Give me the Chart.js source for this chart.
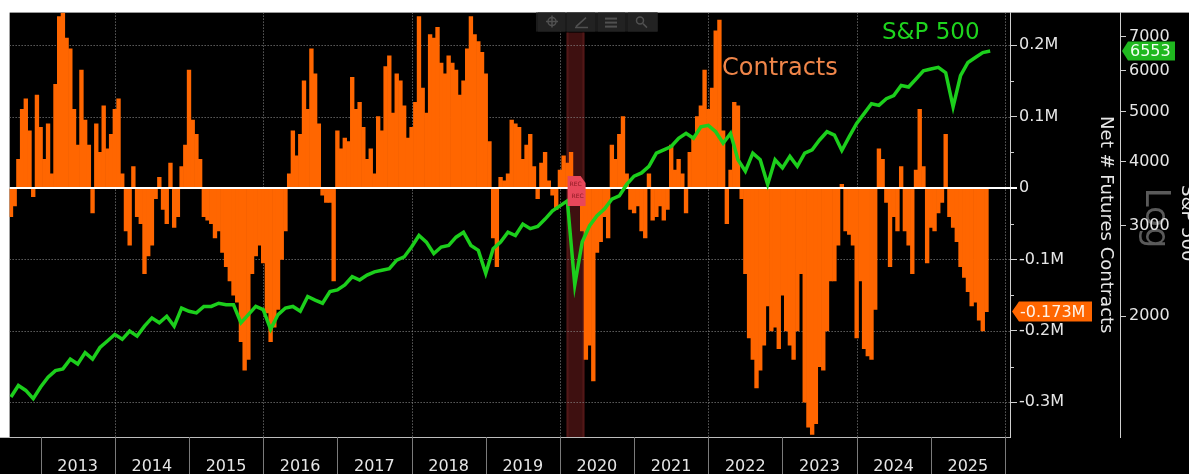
<!DOCTYPE html>
<html>
<head>
<meta charset="utf-8">
<script src="https://cdn.jsdelivr.net/npm/chart.js@4.4.1/dist/chart.umd.min.js"></script>
<style>
html, body { margin: 0; padding: 0; background: #000; overflow: hidden; }
canvas { display: block; }
</style>
</head>
<body>
<canvas id="chart" width="1189" height="474"></canvas>
<script>
// weekly-ish net positioning, thousands of contracts, one value every 0.05 yr
const contractsStart = 2012.6;
const contractsStep = 0.05;
const contracts = [
	-40, -25, 40, 110, 125, 80, -12, 130, 85, 40, 90, 20, 145, 240, 245, 210, 195, 110, 60, 165,
	95, 60, -35, 90, 50, 115, 55, 75, 110, 125, 20, -60, -80, 30, -40, -50, -120, -95, -80, -15,
	15, -30, -50, 35, -55, -40, 30, 60, 165, 95, 75, 40, -40, -45, -50, -70, -60, -90, -110, -130,
	-150, -160, -215, -255, -240, -120, -95, -80, -105, -175, -215, -195, -170, -100, -60, 20, 80, 45, 75, 150,
	110, 195, 160, 90, -10, -20, -20, -130, 80, 55, 70, 65, 155, 110, 120, 85, 40, 55, 20, 100,
	80, 170, 185, 105, 160, 150, 115, 70, 85, 120, 240, 140, 105, 215, 210, 225, 175, 160, 185, 175,
	165, 130, 150, 195, 240, 215, 205, 190, 160, 65, -70, -110, 15, 10, 20, 95, 90, 85, 40, 60,
	75, 30, -15, 35, 50, 10, -10, -30, 25, 45, 35, 50, 5, -10, -60, -240, -220, -270, -90, -75,
	-40, -70, 60, 40, 75, 100, 20, -30, -35, -25, -60, -70, 20, -45, -40, -25, -45, -30, 60, 25,
	40, 20, -35, 50, 70, 100, 115, 165, 110, 140, 220, 235, 80, -50, 25, 120, 115, -15, -120, -210,
	-240, -280, -255, -220, -165, -200, -195, -225, -150, -200, -220, -240, -200, -120, -300, -335, -345, -330, -250, -255,
	-200, -130, -130, -80, 5, -60, -65, -80, -210, -130, -225, -235, -240, -170, 55, 40, -20, -110, -40, -60,
	30, -60, -80, -120, 25, 110, 30, -105, -55, -60, -35, -20, 75, -40, -55, -75, -110, -125, -145, -165,
	-160, -185, -200, -173
];

// S&P 500 index level, one value every 0.1 yr
const spxStart = 2012.6;
const spxStep = 0.1;
const spx = [
	1393, 1467, 1435, 1383, 1457, 1522, 1568, 1580, 1651, 1615, 1700, 1651, 1739, 1790, 1844, 1804, 1872, 1830, 1913, 1985, 1942, 2000,
	1913, 2075, 2045, 2030, 2090, 2090, 2120, 2105, 2105, 1942, 2015, 2090, 2060, 1886, 2015, 2075, 2090, 2045, 2185, 2150, 2120, 2234,
	2250, 2300, 2387, 2352, 2405, 2440, 2458, 2475, 2571, 2608, 2726, 2871, 2787, 2647, 2726, 2746, 2849, 2913, 2746, 2686, 2423, 2706,
	2787, 2913, 2871, 3022, 2960, 2990, 3090, 3206, 3278, 3352, 2300, 2787, 3000, 3136, 3230, 3376, 3427, 3608, 3744, 3799, 3913, 4150, 4213,
	4276, 4435, 4535, 4435, 4670, 4700, 4568, 4338, 4535, 4030, 3828, 4150, 4030, 3608, 4030, 3884, 4091, 3913, 4150, 4213, 4402, 4568,
	4500, 4200, 4470, 4740, 4954, 5178, 5140, 5294, 5370, 5617, 5580, 5784, 6000, 6050, 6093, 5950, 5104, 5869, 6229, 6368, 6510, 6553
];

const yearTicks = [2013, 2014, 2015, 2016, 2017, 2018, 2019, 2020, 2021, 2022, 2023, 2024, 2025, 2026];
const contractTicks = [-300, -200, -100, 0, 100, 200];
const contractMinorTicks = [-250, -150, -50, 50, 150];
const spxTicks = [2000, 3000, 4000, 5000, 6000, 7000];
const recession = [2020.09, 2020.33];
const lastContracts = -173;
const lastSpx = 6553;

const FONT = '"DejaVu Sans"';

function fmtM(v) {
	return v === 0 ? '0' : (v / 1000) + 'M';
}

const decor = {
	id: 'decor',
	beforeDraw(chart) {
		const c = chart.ctx, a = chart.chartArea;
		const sp = chart.scales.spx;
		c.save();
		c.fillStyle = '#000';
		c.fillRect(0, 0, chart.width, chart.height);
		c.fillStyle = '#fff';
		c.fillRect(0, 0, chart.width, a.top);
		c.fillRect(0, 0, a.left, a.bottom);
		// "Log" watermark behind the S&P axis
		c.translate(sp.left + 35, 218);
		c.rotate(Math.PI / 2);
		c.font = '34px ' + FONT;
		c.fillStyle = '#5a5a5a';
		c.textAlign = 'center';
		c.textBaseline = 'middle';
		c.fillText('Log', 0, 0);
		c.restore();
	},
	beforeDatasetsDraw(chart) {
		const c = chart.ctx, a = chart.chartArea;
		const x = chart.scales.x, net = chart.scales.net;
		c.save();
		// recession shading
		const r0 = x.getPixelForValue(recession[0]), r1 = x.getPixelForValue(recession[1]);
		c.fillStyle = '#3e1010';
		c.fillRect(r0, a.top + 20, r1 - r0, a.bottom - a.top - 20);
		c.fillStyle = '#521818';
		c.fillRect(r0, a.top + 20, 2, a.bottom - a.top - 20);
		c.fillRect(r1 - 2, a.top + 20, 2, a.bottom - a.top - 20);
		// dotted grid
		c.strokeStyle = '#8c8c8c';
		c.lineWidth = 1;
		c.setLineDash([1, 2]);
		contractTicks.forEach(v => {
			if (v === 0) return;
			const y = Math.round(net.getPixelForValue(v)) + 0.5;
			c.beginPath();
			c.moveTo(a.left, y);
			c.lineTo(a.right, y);
			c.stroke();
		});
		yearTicks.forEach(v => {
			if (v % 2 !== 0) return;
			const px = Math.round(x.getPixelForValue(v)) + 0.5;
			c.beginPath();
			c.moveTo(px, a.top);
			c.lineTo(px, a.bottom);
			c.stroke();
		});
		c.restore();
	},
	afterDatasetDraw(chart, args) {
		if (args.index !== 0) return;
		const c = chart.ctx, a = chart.chartArea;
		const y = chart.scales.net.getPixelForValue(0);
		c.save();
		c.strokeStyle = '#ffffff';
		c.lineWidth = 2;
		c.beginPath();
		c.moveTo(a.left, y);
		c.lineTo(a.right + 7, y);
		c.stroke();
		c.restore();
	},
	afterDraw(chart) {
		const c = chart.ctx, a = chart.chartArea;
		const x = chart.scales.x, net = chart.scales.net, sp = chart.scales.spx;
		c.save();
		// bottom frame and year separators
		c.strokeStyle = '#bdbdbd';
		c.lineWidth = 1;
		c.beginPath();
		c.moveTo(0, a.bottom + 0.5);
		c.lineTo(a.right, a.bottom + 0.5);
		c.stroke();
		c.strokeStyle = '#7a7a7a';
		yearTicks.forEach(v => {
			const px = Math.round(x.getPixelForValue(v)) + 0.5;
			c.beginPath();
			c.moveTo(px, a.bottom);
			c.lineTo(px, chart.height);
			c.stroke();
		});
		// minor ticks on the contracts axis
		c.strokeStyle = '#cfcfcf';
		contractMinorTicks.forEach(v => {
			const y = Math.round(net.getPixelForValue(v)) + 0.5;
			c.beginPath();
			c.moveTo(a.right, y);
			c.lineTo(a.right + 4, y);
			c.stroke();
		});

		// toolbar overlay
		const tb = [[538, 565], [567, 595], [598, 625], [628, 657]];
		c.fillStyle = '#1b1b1b';
		c.fillRect(536, a.top, 122, 19);
		c.fillStyle = '#222';
		tb.forEach(t => c.fillRect(t[0], a.top, t[1] - t[0], 19));
		c.strokeStyle = '#505050';
		c.fillStyle = '#505050';
		c.lineWidth = 1.5;
		c.beginPath(); c.arc(552, a.top + 9, 4, 0, Math.PI * 2); c.stroke();
		c.beginPath(); c.moveTo(546, a.top + 9); c.lineTo(558, a.top + 9); c.moveTo(552, a.top + 3); c.lineTo(552, a.top + 15); c.stroke();
		c.beginPath(); c.moveTo(576, a.top + 14); c.lineTo(586, a.top + 5); c.moveTo(575, a.top + 15); c.lineTo(588, a.top + 15); c.stroke();
		c.fillRect(605, a.top + 5, 12, 2); c.fillRect(605, a.top + 9, 12, 2); c.fillRect(605, a.top + 13, 12, 2);
		c.beginPath(); c.arc(640, a.top + 8, 3.5, 0, Math.PI * 2); c.stroke();
		c.beginPath(); c.moveTo(643, a.top + 11); c.lineTo(647, a.top + 15); c.stroke();

		// recession markers
		const r0 = x.getPixelForValue(recession[0]) + 1;
		const y0 = net.getPixelForValue(0);
		c.fillStyle = '#e8475a';
		c.beginPath();
		c.moveTo(r0, y0 - 12); c.lineTo(r0 + 13, y0 - 12); c.lineTo(r0 + 18, y0 - 5);
		c.lineTo(r0 + 18, y0 + 18); c.lineTo(r0, y0 + 18); c.closePath();
		c.fill();
		c.fillStyle = '#8a1a22';
		c.font = '6px ' + FONT;
		c.textAlign = 'left';
		c.textBaseline = 'middle';
		c.fillText('REC', r0 + 2, y0 - 4);
		c.fillText('REC', r0 + 4, y0 + 8);

		// series labels
		c.font = '23px ' + FONT;
		c.textBaseline = 'middle';
		c.fillStyle = '#1ed41e';
		c.fillText('S&P 500', 882, 33);
		c.font = '24px ' + FONT;
		c.fillStyle = '#f0864a';
		c.fillText('Contracts', 722, 69);

		// last value tags
		const gy = sp.getPixelForValue(lastSpx);
		const gx = sp.left + 2;
		c.fillStyle = '#1fb81f';
		c.beginPath();
		c.moveTo(gx, gy); c.lineTo(gx + 6, gy - 9.5); c.lineTo(gx + 53, gy - 9.5);
		c.lineTo(gx + 53, gy + 9.5); c.lineTo(gx + 6, gy + 9.5); c.closePath();
		c.fill();
		c.fillStyle = '#f2fff2';
		c.font = '16px ' + FONT;
		c.fillText(String(lastSpx), gx + 8, gy + 1);

		const oy = net.getPixelForValue(lastContracts);
		const ox = a.right + 2;
		c.fillStyle = '#ff6600';
		c.beginPath();
		c.moveTo(ox, oy); c.lineTo(ox + 7, oy - 10); c.lineTo(ox + 80, oy - 10);
		c.lineTo(ox + 80, oy + 10); c.lineTo(ox + 7, oy + 10); c.closePath();
		c.fill();
		c.fillStyle = '#fdf3ea';
		c.fillText((lastContracts / 1000).toFixed(3) + 'M', ox + 8, oy + 1);

		// S&P axis title, cut by the right edge
		c.translate(1187, 185);
		c.rotate(Math.PI / 2);
		c.fillStyle = '#e6e6e6';
		c.font = '18px ' + FONT;
		c.textAlign = 'left';
		c.textBaseline = 'middle';
		c.fillText('S&P 500', 0, 0);
		c.restore();
	}
};

const ctx = document.getElementById('chart').getContext('2d');

new Chart(ctx, {
	type: 'bar',
	data: {
		datasets: [{
			type: 'bar',
			label: 'Contracts',
			data: contracts.map((v, i) => ({ x: contractsStart + i * contractsStep, y: v })),
			backgroundColor: '#ff6600',
			borderWidth: 0,
			barPercentage: 1,
			categoryPercentage: 1,
			grouped: false,
			xAxisID: 'x',
			yAxisID: 'net',
			order: 2
		}, {
			type: 'line',
			label: 'S&P 500',
			data: spx.map((v, i) => ({ x: spxStart + i * spxStep, y: v })),
			borderColor: '#1ccf1c',
			borderWidth: 3.5,
			pointRadius: 0,
			tension: 0,
			xAxisID: 'x',
			yAxisID: 'spx',
			order: 1
		}]
	},
	options: {
		responsive: false,
		devicePixelRatio: 1,
		animation: false,
		layout: { padding: { left: 9, top: 8, right: 0, bottom: 0 } },
		plugins: {
			legend: { display: false },
			tooltip: { enabled: false }
		},
		scales: {
			x: {
				type: 'linear',
				position: 'bottom',
				offset: false,
				min: 2012.582,
				max: 2026.067,
				afterBuildTicks: s => { s.ticks = yearTicks.map(v => ({ value: v })); },
				afterFit: s => { s.height = 37; },
				grid: { display: false, drawTicks: false },
				border: { display: false },
				ticks: {
					autoSkip: false,
					maxRotation: 0,
					minRotation: 0,
					labelOffset: 37,
					padding: 20,
					color: '#e6e6e6',
					font: { family: 'DejaVu Sans', size: 16 },
					callback: v => v === 2026 ? '' : String(v)
				}
			},
			net: {
				type: 'linear',
				position: 'right',
				weight: 1,
				min: -348.6,
				max: 245.6,
				afterBuildTicks: s => { s.ticks = contractTicks.map(v => ({ value: v })); },
				afterFit: s => { s.width = 110; },
				grid: { drawOnChartArea: false, drawTicks: true, tickLength: 7, color: '#cfcfcf' },
				border: { display: true, color: '#cfcfcf' },
				ticks: {
					padding: 2,
					color: '#e6e6e6',
					font: { family: 'DejaVu Sans', size: 16 },
					callback: v => fmtM(v)
				},
				title: {
					display: true,
					text: 'Net # Futures Contracts',
					color: '#e6e6e6',
					font: { family: 'DejaVu Sans', size: 18 },
					padding: { top: 4, bottom: 0 }
				}
			},
			spx: {
				type: 'logarithmic',
				position: 'right',
				weight: 2,
				min: 1165,
				max: 7785,
				afterBuildTicks: s => { s.ticks = spxTicks.map(v => ({ value: v })); },
				afterFit: s => { s.width = 69; },
				grid: { drawOnChartArea: false, drawTicks: true, tickLength: 6, color: '#cfcfcf' },
				border: { display: true, color: '#cfcfcf' },
				ticks: {
					padding: 3,
					color: '#e6e6e6',
					font: { family: 'DejaVu Sans', size: 16 },
					callback: v => String(v)
				}
			}
		}
	},
	plugins: [decor]
});
</script>
</body>
</html>
